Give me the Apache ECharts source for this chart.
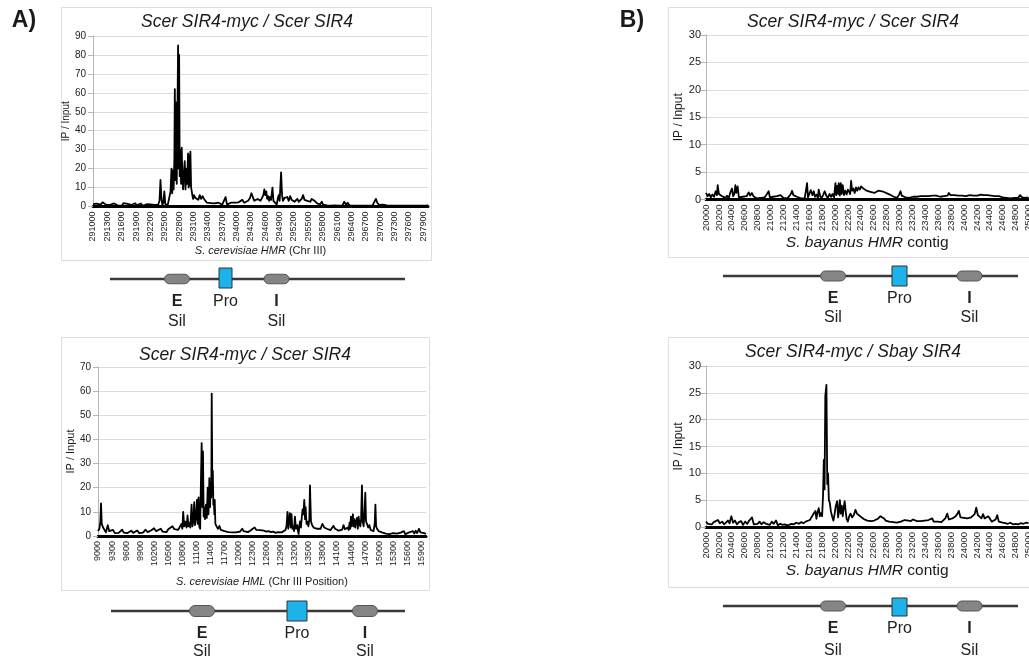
<!DOCTYPE html>
<html>
<head>
<meta charset="utf-8">
<script src="https://cdn.jsdelivr.net/npm/echarts@6/dist/echarts.min.js"></script>
<style>
html, body { margin: 0; padding: 0; background: #fff; }
#chart { width: 1029px; height: 662px; }
</style>
</head>
<body>
<div id="chart"></div>
<script>
// Sir4 ChIP enrichment (IP / Input) across the silent mating-type loci.
const FONT = '"Liberation Sans", Arial, Helvetica, sans-serif';

const chartTitles = [
  'Scer SIR4-myc / Scer SIR4',
  'Scer SIR4-myc / Scer SIR4',
  'Scer SIR4-myc / Scer SIR4',
  'Scer SIR4-myc / Sbay SIR4'
];
const xAxisNames = [
  '{i|S. cerevisiae HMR} (Chr III)',
  '{i|S. cerevisiae HML} (Chr III Position)',
  '{i|S. bayanus HMR} contig',
  '{i|S. bayanus HMR} contig'
];
const yAxisName = 'IP / Input';

// x-axis extents and label spacing (bp); y-axis extents
const xRanges = [
  { min: 291000, max: 298000, step: 300 },
  { min: 9000, max: 16000, step: 300 },
  { min: 20000, max: 25000, step: 200 },
  { min: 20000, max: 25000, step: 200 }
];
const yRanges = [
  { max: 90, step: 10 },
  { max: 70, step: 10 },
  { max: 30, step: 5 },
  { max: 30, step: 5 }
];

// [position, IP/Input] — S. cerevisiae HMR, Scer SIR4-myc vs Scer SIR4
const scerHmr = [
  [291000,1.2],[291040,0.4],[291080,1.5],[291120,0.6],[291160,1.0],[291200,2.2],[291240,1.6],[291280,0.8],
  [291320,0.5],[291360,0.9],[291400,0.4],[291440,1.6],[291480,0.7],[291520,0.5],[291560,1.2],[291600,0.4],
  [291640,1.8],[291680,0.9],[291720,1.4],[291760,0.5],[291800,0.8],[291840,0.5],[291880,1.7],[291920,0.6],
  [291960,0.9],[292000,1.6],[292040,0.4],[292080,0.7],[292120,1.2],[292160,0.4],[292200,1.1],[292240,0.5],
  [292280,0.9],[292320,0.6],[292360,0.8],[292390,3.0],[292410,14.0],[292430,4.0],[292450,0.8],[292470,2.0],
  [292490,8.0],[292510,1.5],[292540,0.5],[292560,0.6],[292600,1.5],[292620,8.0],[292640,20.0],[292655,7.0],
  [292670,19.0],[292685,9.0],[292700,25.0],[292710,62.0],[292720,14.0],[292735,55.0],[292750,12.0],[292765,50.0],
  [292778,85.0],[292790,20.0],[292800,80.0],[292812,16.0],[292826,30.0],[292840,12.0],[292854,31.0],[292868,15.0],
  [292882,9.0],[292900,18.0],[292917,24.0],[292932,9.0],[292952,20.0],[292968,12.0],[292986,28.0],[292998,10.0],
  [293010,27.0],[293022,11.0],[293035,29.0],[293050,10.0],[293070,9.0],[293090,4.0],[293110,6.0],[293140,4.5],
  [293170,5.0],[293200,3.5],[293230,6.0],[293260,4.0],[293290,5.5],[293320,4.0],[293350,5.0],[293380,2.0],
  [293420,2.0],[293460,1.8],[293500,2.0],[293540,1.6],[293580,1.5],[293620,2.0],[293660,1.2],[293700,1.0],
  [293740,2.0],[293770,5.0],[293800,1.0],[293840,0.8],[293880,2.0],[293920,1.5],[293960,2.0],[294000,1.5],
  [294040,2.2],[294080,1.8],[294120,3.5],[294160,2.0],[294200,2.4],[294240,3.0],[294280,4.5],[294310,7.0],
  [294340,6.0],[294370,3.0],[294400,2.5],[294440,4.0],[294470,5.0],[294500,3.0],[294530,3.5],[294560,6.0],
  [294580,9.0],[294600,6.0],[294620,8.0],[294640,4.0],[294660,5.5],[294680,3.0],[294700,5.0],[294720,3.5],
  [294750,10.0],[294770,3.0],[294790,2.5],[294810,4.0],[294840,1.0],[294860,4.0],[294880,6.0],[294900,3.0],
  [294930,18.0],[294950,6.0],[294970,3.0],[295000,4.5],[295030,3.5],[295060,5.0],[295090,3.0],[295120,5.5],
  [295150,3.5],[295180,3.0],[295210,2.5],[295240,3.5],[295270,4.0],[295300,2.5],[295330,3.0],[295360,4.0],
  [295390,6.0],[295420,3.5],[295450,4.0],[295480,3.0],[295510,3.5],[295540,2.5],[295570,4.0],[295600,3.0],
  [295630,3.0],[295660,2.0],[295690,1.5],[295720,1.8],[295750,1.2],[295780,2.5],[295810,1.0],[295850,1.2],
  [295890,0.6],[295930,1.0],[295970,0.5],[296010,1.5],[296050,0.6],[296090,0.9],[296130,0.4],[296170,1.2],
  [296210,0.5],[296250,2.5],[296290,0.8],[296320,2.0],[296360,0.6],[296400,0.8],[296440,0.5],[296480,0.9],
  [296520,0.4],[296560,0.7],[296600,0.4],[296640,0.8],[296680,0.5],[296720,0.6],[296760,0.4],[296800,0.7],
  [296840,0.5],[296880,1.0],[296910,4.0],[296940,2.0],[296980,0.8],[297020,0.5],[297060,1.0],[297100,1.2],
  [297140,0.6],[297180,0.9],[297220,0.4],[297260,0.8],[297300,0.5],[297340,0.6],[297380,0.4],[297420,0.9],
  [297460,0.5],[297500,0.7],[297540,0.4],[297580,0.6],[297620,0.5],[297660,0.8],[297700,0.4],[297740,0.6],
  [297780,0.5],[297820,0.7],[297860,0.4],[297900,0.6],[297940,0.5],[298000,0.6]
];

// [position, IP/Input] — S. cerevisiae HML, Scer SIR4-myc vs Scer SIR4
const scerHml = [
  [9000,2.0],[9030,3.0],[9050,6.0],[9064,13.5],[9080,5.0],[9110,3.5],[9140,2.5],[9170,1.5],[9208,4.5],[9240,2.0],
  [9280,1.5],[9320,2.5],[9360,1.2],[9400,2.0],[9440,1.3],[9480,1.8],[9515,2.6],[9550,1.4],[9590,1.8],[9630,1.2],
  [9670,1.9],[9710,2.2],[9750,1.3],[9790,1.6],[9837,2.3],[9880,1.2],[9920,1.8],[9960,1.4],[10016,2.6],[10060,1.6],
  [10100,2.0],[10140,2.4],[10195,3.2],[10240,2.0],[10280,2.6],[10339,3.0],[10380,1.8],[10420,2.0],[10460,1.6],[10500,2.8],
  [10540,3.5],[10589,4.0],[10630,2.8],[10670,2.0],[10710,2.5],[10750,3.0],[10780,5.0],[10800,3.0],[10818,10.0],[10840,4.0],
  [10861,6.0],[10890,3.5],[10911,8.5],[10930,4.0],[10947,5.5],[10970,3.5],[10997,13.0],[11015,4.0],[11033,6.0],[11054,14.0],
  [11070,4.5],[11090,7.0],[11112,15.0],[11130,5.0],[11147,16.0],[11162,4.0],[11180,3.0],[11196,22.0],[11212,38.5],[11226,12.0],
  [11240,35.0],[11255,8.0],[11269,12.0],[11285,7.0],[11305,13.0],[11322,7.5],[11341,20.0],[11358,9.0],[11377,24.0],[11392,12.0],
  [11405,22.0],[11418,16.0],[11427,59.0],[11440,20.0],[11450,27.0],[11462,13.0],[11472,15.0],[11483,9.0],[11491,15.0],[11505,5.0],
  [11530,4.0],[11560,3.0],[11591,4.2],[11620,2.5],[11660,3.0],[11700,2.0],[11734,2.6],[11780,1.6],[11820,2.0],[11860,1.5],
  [11900,1.8],[11940,1.5],[11980,2.0],[12030,1.8],[12078,3.0],[12110,2.0],[12150,1.8],[12200,1.6],[12250,2.2],[12300,3.0],
  [12343,3.5],[12380,2.5],[12420,2.0],[12460,2.4],[12500,1.8],[12540,2.2],[12593,1.8],[12640,2.0],[12690,1.6],[12740,1.8],
  [12790,1.3],[12840,1.6],[12880,1.2],[12920,1.5],[12960,1.8],[13000,2.5],[13023,4.0],[13044,10.0],[13060,3.0],[13075,6.0],
  [13094,9.5],[13112,3.5],[13130,9.0],[13148,3.0],[13166,4.0],[13184,2.0],[13202,8.0],[13225,3.0],[13252,4.5],[13268,2.0],
  [13281,0.8],[13296,4.0],[13309,6.0],[13330,3.5],[13350,8.0],[13366,11.0],[13385,9.0],[13402,15.0],[13418,7.0],[13431,12.0],
  [13450,5.0],[13467,6.0],[13490,4.0],[13510,7.0],[13524,21.0],[13545,6.0],[13570,4.5],[13600,3.5],[13631,4.0],[13670,3.0],
  [13710,2.5],[13750,3.0],[13789,5.0],[13830,3.5],[13882,3.0],[13920,2.6],[13960,2.4],[14000,3.0],[14025,4.2],[14060,3.0],
  [14100,2.5],[14140,2.2],[14180,3.0],[14210,2.6],[14240,4.5],[14270,2.8],[14300,2.0],[14330,3.5],[14350,2.5],[14369,5.5],
  [14383,3.0],[14397,8.0],[14412,4.0],[14425,6.0],[14440,9.0],[14455,4.0],[14470,7.0],[14490,3.5],[14505,6.0],[14526,7.5],
  [14545,3.0],[14562,8.0],[14580,5.0],[14598,4.0],[14615,7.0],[14633,21.0],[14650,6.0],[14669,4.0],[14688,10.0],[14705,18.0],
  [14720,6.0],[14741,5.0],[14765,3.5],[14791,4.5],[14820,2.5],[14848,3.0],[14880,2.0],[14905,5.0],[14920,13.0],[14935,4.0],
  [14955,3.0],[14990,2.0],[15027,2.5],[15060,1.5],[15100,1.2],[15140,1.0],[15180,0.6],[15220,0.8],[15260,0.5],[15300,1.2],
  [15340,0.8],[15380,1.0],[15420,0.6],[15460,1.4],[15500,0.8],[15528,2.0],[15560,0.7],[15600,1.0],[15640,1.5],[15680,0.8],
  [15720,2.0],[15750,1.0],[15779,2.2],[15810,1.2],[15850,3.0],[15880,1.5],[15920,1.0],[15960,1.2],[16000,0.8]
];

// [position, IP/Input] — S. bayanus HMR contig, Scer SIR4-myc vs Scer SIR4
const sbayHmrScerSir4 = [
  [20000,1.2],[20025,0.6],[20050,1.0],[20075,0.4],[20100,0.9],[20125,0.5],[20150,1.5],[20170,0.8],[20181,2.6],[20200,1.0],
  [20225,1.3],[20250,0.6],[20275,0.9],[20300,0.3],[20325,0.7],[20350,0.2],[20375,1.2],[20403,2.0],[20420,0.6],[20440,1.0],
  [20455,2.6],[20470,1.2],[20490,2.4],[20510,0.4],[20540,0.2],[20570,0.5],[20600,0.8],[20630,0.6],[20662,1.3],[20685,0.7],
  [20710,1.2],[20735,0.6],[20760,0.4],[20790,0.2],[20820,0.5],[20850,0.3],[20880,0.6],[20910,0.4],[20940,0.9],[20972,1.5],
  [20990,0.4],[21010,0.1],[21040,0.5],[21070,0.3],[21100,0.6],[21130,0.3],[21155,0.8],[21179,1.0],[21200,0.3],[21230,0.6],
  [21260,0.2],[21290,0.6],[21315,1.0],[21334,1.6],[21355,0.8],[21380,1.0],[21410,0.5],[21440,0.7],[21470,0.2],[21500,0.4],
  [21530,0.2],[21555,0.5],[21567,3.0],[21580,0.4],[21600,0.6],[21625,1.7],[21650,0.8],[21670,1.5],[21690,0.5],[21715,0.9],
  [21735,0.3],[21748,1.8],[21770,0.6],[21790,0.2],[21815,0.8],[21840,1.5],[21865,0.7],[21890,0.3],[21915,1.0],[21940,0.5],
  [21960,1.0],[21985,0.4],[22007,3.0],[22020,0.8],[22035,2.5],[22050,1.0],[22058,3.0],[22075,0.7],[22090,3.0],[22105,1.0],
  [22120,2.6],[22140,0.8],[22160,1.6],[22180,0.9],[22200,1.8],[22220,1.4],[22235,1.0],[22250,3.4],[22265,1.6],[22285,2.0],
  [22305,1.2],[22325,2.2],[22345,1.6],[22365,2.2],[22385,1.8],[22405,2.4],[22420,2.6],[22440,2.0],[22465,1.8],[22490,1.6],
  [22520,1.6],[22550,1.4],[22580,1.3],[22610,1.2],[22640,1.5],[22670,1.6],[22700,1.4],[22730,1.5],[22760,1.3],[22790,1.2],
  [22820,1.1],[22850,0.9],[22880,0.7],[22910,0.5],[22940,0.4],[22963,0.3],[22990,0.8],[23015,1.5],[23035,0.7],[23060,0.5],
  [23090,0.4],[23120,0.6],[23150,0.3],[23180,0.4],[23210,0.5],[23240,0.3],[23270,0.5],[23300,0.4],[23330,0.6],[23360,0.5],
  [23390,0.6],[23420,0.4],[23450,0.6],[23480,0.5],[23510,0.7],[23540,0.5],[23570,0.7],[23600,0.6],[23630,0.5],[23660,0.7],
  [23690,0.6],[23720,0.8],[23745,0.7],[23765,1.2],[23790,0.8],[23820,0.7],[23850,0.8],[23880,0.6],[23910,0.7],[23940,0.8],
  [23970,0.7],[24000,0.8],[24030,0.6],[24060,0.7],[24090,0.8],[24120,0.9],[24150,0.7],[24180,0.8],[24210,0.7],[24240,0.8],
  [24260,0.9],[24282,1.0],[24305,0.8],[24330,0.7],[24360,0.8],[24390,0.6],[24420,0.7],[24450,0.5],[24480,0.6],[24510,0.4],
  [24540,0.6],[24570,0.5],[24600,0.4],[24630,0.5],[24660,0.3],[24690,0.5],[24720,0.2],[24750,0.4],[24780,0.3],[24810,0.5],
  [24840,0.3],[24870,0.8],[24900,0.4],[24930,0.5],[24960,0.3],[25000,0.4]
];

// [position, IP/Input] — S. bayanus HMR contig, Scer SIR4-myc vs Sbay SIR4
const sbayHmrSbaySir4 = [
  [20000,1.0],[20030,0.6],[20060,0.8],[20090,0.5],[20120,0.9],[20150,0.6],[20185,1.3],[20215,0.7],[20250,1.0],[20280,0.5],
  [20310,0.8],[20340,1.2],[20365,0.7],[20393,2.0],[20420,0.8],[20450,1.2],[20480,0.5],[20510,0.9],[20545,1.1],[20575,0.4],
  [20605,1.0],[20640,0.6],[20670,1.2],[20714,1.8],[20740,0.5],[20770,0.8],[20800,0.6],[20830,1.0],[20860,0.5],[20895,0.9],
  [20930,0.6],[20960,0.7],[20990,0.4],[21020,1.0],[21050,0.6],[21085,1.2],[21115,0.3],[21150,0.6],[21185,0.4],[21220,0.5],
  [21255,0.3],[21290,0.4],[21325,0.6],[21360,0.5],[21400,0.8],[21440,0.6],[21475,0.9],[21510,0.7],[21545,1.0],[21575,0.9],
  [21610,1.3],[21640,1.2],[21670,2.5],[21696,3.0],[21712,1.5],[21730,2.8],[21748,3.5],[21765,2.0],[21785,2.6],[21800,2.0],
  [21815,6.0],[21826,12.5],[21838,7.0],[21850,24.5],[21867,26.5],[21880,8.0],[21892,10.0],[21905,5.0],[21920,4.5],[21935,3.0],
  [21955,2.0],[21975,1.2],[21995,2.5],[22010,3.8],[22033,4.8],[22048,1.8],[22060,2.8],[22075,5.0],[22090,2.5],[22105,4.0],
  [22120,2.0],[22135,3.5],[22150,4.8],[22165,3.0],[22180,1.5],[22200,1.0],[22220,2.0],[22240,2.5],[22265,1.8],[22290,2.2],
  [22317,3.2],[22340,2.5],[22365,2.4],[22390,2.0],[22420,1.8],[22445,1.5],[22470,1.6],[22500,1.2],[22530,1.4],[22560,1.1],
  [22585,1.0],[22610,1.2],[22640,1.4],[22670,1.6],[22705,2.0],[22730,1.7],[22760,1.6],[22785,1.2],[22815,1.4],[22840,1.0],
  [22870,0.8],[22900,0.9],[22930,0.6],[22960,0.8],[22990,0.7],[23020,1.0],[23050,0.9],[23080,1.3],[23110,1.0],[23140,1.2],
  [23175,1.1],[23210,1.4],[23240,1.2],[23270,1.1],[23300,1.3],[23330,1.1],[23360,1.0],[23390,1.2],[23420,1.0],[23450,1.3],
  [23480,1.4],[23507,1.6],[23530,1.0],[23560,1.1],[23590,1.0],[23620,1.2],[23650,0.9],[23680,1.2],[23710,1.6],[23740,2.5],
  [23765,1.4],[23790,1.2],[23820,1.6],[23845,1.4],[23870,2.0],[23895,2.4],[23920,3.0],[23945,1.8],[23970,1.5],[24000,1.7],
  [24030,2.0],[24055,1.6],[24085,1.5],[24110,1.8],[24140,1.7],[24165,2.4],[24190,3.6],[24215,2.2],[24240,2.0],[24270,1.6],
  [24295,2.4],[24320,1.6],[24345,1.3],[24375,2.0],[24400,1.6],[24430,1.0],[24460,1.2],[24490,1.4],[24515,2.2],[24540,1.0],
  [24570,0.9],[24600,0.8],[24640,0.7],[24680,0.6],[24720,0.8],[24760,0.5],[24800,0.6],[24840,0.5],[24880,0.7],[24920,0.6],
  [24960,0.8],[25000,0.7]
];

const seriesData = [scerHmr, scerHml, sbayHmrScerSir4, sbayHmrSbaySir4];

// Plot-area placement of the four panels
const grids = [
  { left: 93, top: 36, width: 335, height: 170.5 },
  { left: 98, top: 367, width: 328, height: 169 },
  { left: 706, top: 35, width: 322.5, height: 164.5 },
  { left: 706, top: 366, width: 322.5, height: 161 }
];
const xLabelSize = [9, 9, 9.5, 9.5];
const yLabelSize = [10, 10, 11, 11];
const xNameSize = [11, 11, 15.5, 15.5];
const xNameGap = [35.5, 40, 31.5, 30];
const yNameSize = [10, 11, 12, 12];
const yNameGap = [20, 22, 17.5, 17.5];

const xAxes = xRanges.map((r, k) => ({
  gridIndex: k, type: 'value', min: r.min, max: r.max, interval: r.step,
  axisLine: { show: true, onZero: false, lineStyle: { color: '#000', width: 3 } },
  axisTick: { show: false },
  splitLine: { show: false },
  axisLabel: {
    rotate: 90, fontSize: xLabelSize[k], color: '#222', margin: 5, fontFamily: FONT,
    showMaxLabel: k >= 2, formatter: v => String(v)
  },
  name: xAxisNames[k], nameLocation: 'middle', nameGap: xNameGap[k],
  nameTextStyle: {
    fontSize: xNameSize[k], color: '#1a1a1a', fontFamily: FONT,
    rich: { i: { fontStyle: 'italic', fontSize: xNameSize[k], color: '#1a1a1a', fontFamily: FONT } }
  }
}));

const yAxes = yRanges.map((r, k) => ({
  gridIndex: k, type: 'value', min: 0, max: r.max, interval: r.step,
  axisLine: { show: true, lineStyle: { color: '#b5b5b5', width: 1 } },
  axisTick: { show: true, length: 5, lineStyle: { color: '#b5b5b5' } },
  splitLine: { show: true, lineStyle: { color: '#dcdcdc', width: 1 } },
  axisLabel: { fontSize: yLabelSize[k], color: '#222', margin: k >= 2 ? 5 : 7, fontFamily: FONT },
  name: yAxisName, nameLocation: 'middle', nameRotate: 90, nameGap: yNameGap[k],
  nameTextStyle: { fontSize: yNameSize[k], color: '#1a1a1a', fontFamily: FONT }
}));

const series = seriesData.map((d, k) => ({
  type: 'line', xAxisIndex: k, yAxisIndex: k, data: d,
  showSymbol: false, symbol: 'none', silent: true, clip: true,
  lineStyle: { color: '#000', width: 1.8, join: 'round' }, z: 3
}));

// Panel frames, titles and locus diagrams
const frames = [
  { x: 61, y: 7, w: 370, h: 253 },
  { x: 61, y: 337, w: 368, h: 253 },
  { x: 668, y: 7, w: 420, h: 250 },
  { x: 668, y: 337, w: 420, h: 250 }
];
const titlePos = [[247, 22], [245, 355], [853, 22], [853, 352]];

function txt(x, y, text, font, color) {
  return {
    type: 'text', x: x, y: y, z: 10, silent: true,
    style: { text: text, font: font, fill: color || '#222',
      align: 'center', verticalAlign: 'middle', textAlign: 'center', textVerticalAlign: 'middle' }
  };
}

function locus(c) {
  const els = [];
  els.push({ type: 'line', z: 8, silent: true, shape: { x1: c.x1, y1: c.y, x2: c.x2, y2: c.y },
    style: { stroke: '#3a3a3a', lineWidth: 2.5 } });
  [c.e, c.i].forEach(cx => {
    els.push({ type: 'rect', z: 9, silent: true,
      shape: { x: cx - 12.5, y: c.y - c.oh / 2, width: 25, height: c.oh, r: c.oh / 2 },
      style: { fill: '#858585', stroke: '#555', lineWidth: 1 } });
  });
  els.push({ type: 'rect', z: 9, silent: true,
    shape: { x: c.pro - c.pw / 2, y: c.py, width: c.pw, height: c.ph },
    style: { fill: '#1db3ea', stroke: '#333', lineWidth: 1 } });
  const f = '16px ' + FONT;
  const fb = 'bold 16px ' + FONT;
  els.push(txt(c.e, c.ty, 'E', fb));
  els.push(txt(c.pro, c.ty, 'Pro', f));
  els.push(txt(c.i, c.ty, 'I', fb));
  els.push(txt(c.e, c.sy, 'Sil', f));
  els.push(txt(c.i, c.sy, 'Sil', f));
  return els;
}

const graphics = [];
frames.forEach(b => graphics.push({
  type: 'rect', z: -10, silent: true, shape: { x: b.x + 0.5, y: b.y + 0.5, width: b.w, height: b.h },
  style: { fill: '#fff', stroke: '#dedede', lineWidth: 1 }
}));
chartTitles.forEach((t, k) => graphics.push(
  txt(titlePos[k][0], titlePos[k][1], t, 'italic 17.5px ' + FONT, '#1a1a1a')));
graphics.push(txt(24, 21, 'A)', 'bold 23px ' + FONT, '#1a1a1a'));
graphics.push(txt(632, 21, 'B)', 'bold 23px ' + FONT, '#1a1a1a'));

locus({ x1: 110, x2: 405, y: 279, e: 177, pro: 225.5, i: 276.5, oh: 9.5, pw: 13, py: 268, ph: 20, ty: 302, sy: 322 })
  .forEach(g => graphics.push(g));
locus({ x1: 111, x2: 405, y: 611, e: 202, pro: 297, i: 365, oh: 11, pw: 20, py: 601, ph: 20, ty: 634, sy: 652 })
  .forEach(g => graphics.push(g));
locus({ x1: 723, x2: 1018, y: 276, e: 833, pro: 899.5, i: 969.5, oh: 10, pw: 15, py: 266, ph: 20, ty: 299, sy: 318 })
  .forEach(g => graphics.push(g));
locus({ x1: 723, x2: 1018, y: 606, e: 833, pro: 899.5, i: 969.5, oh: 10, pw: 15, py: 598, ph: 18, ty: 629, sy: 651 })
  .forEach(g => graphics.push(g));

const chart = echarts.init(document.getElementById('chart'), null, { renderer: 'canvas' });
chart.setOption({
  animation: false,
  backgroundColor: '#fff',
  textStyle: { fontFamily: FONT },
  grid: grids.map(g => Object.assign({ containLabel: false, outerBoundsMode: 'none' }, g)),
  xAxis: xAxes,
  yAxis: yAxes,
  series: series,
  graphic: { elements: graphics }
});
</script>
</body>
</html>
